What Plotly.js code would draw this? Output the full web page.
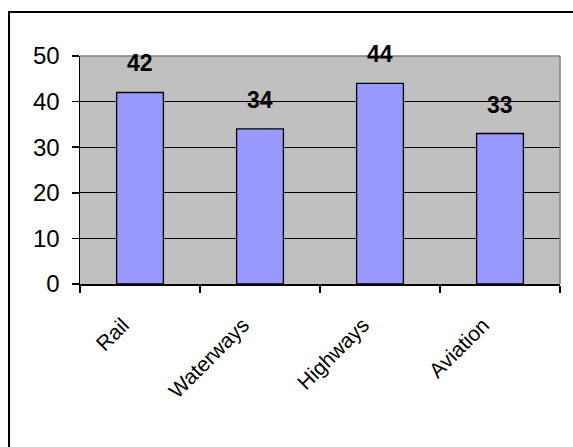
<!DOCTYPE html>
<html>
<head>
<meta charset="utf-8">
<script src="https://cdn.plot.ly/plotly-3.0.1.min.js"></script>
<style>
  html, body { margin: 0; padding: 0; background: #fff; }
  #wrap { position: relative; width: 573px; height: 447px; overflow: hidden; }
  #frame { position: absolute; left: 8px; top: 11px; width: 600px; height: 500px;
           border-top: 2px solid #000; border-left: 2px solid #000; box-sizing: border-box; }
  #chart { position: absolute; left: 0; top: 0; width: 573px; height: 447px; }
</style>
</head>
<body>
<div id="wrap">
  <div id="frame"></div>
  <div id="chart"></div>
</div>
<script>
const categories = ["Rail", "Waterways", "Highways", "Aviation"];
const values = [42, 34, 44, 33];
const yTicks = [0, 10, 20, 30, 40, 50];

const trace = {
  type: "bar",
  x: categories,
  y: values,
  marker: { color: "#9999FF", line: { color: "#000", width: 1.3 } },
  hoverinfo: "none"
};

const annotations = categories.map((c, i) => ({
  x: c, y: values[i], xref: "x", yref: "y",
  text: String(values[i]),
  showarrow: false,
  yanchor: "bottom",
  yshift: 14,
  font: { family: "Liberation Sans, Arial, sans-serif", size: 23, color: "#000", weight: "bold" }
}));

const layout = {
  width: 573, height: 447,
  margin: { l: 80, r: 13, t: 56, b: 163 },
  paper_bgcolor: "rgba(0,0,0,0)",
  plot_bgcolor: "#C0C0C0",
  showlegend: false,
  bargap: 0.61,
  font: { family: "Liberation Sans, Arial, sans-serif", color: "#000" },
  xaxis: {
    type: "category",
    showline: true, linecolor: "#000", linewidth: 1.5,
    ticks: "outside", tickson: "boundaries", ticklen: 7, tickcolor: "#000", tickwidth: 1.5,
    tickangle: -45,
    ticklabelstandoff: 19,
    ticklabelshift: -17,
    tickfont: { size: 21, family: "Liberation Sans, Arial, sans-serif" },
    showgrid: false
  },
  yaxis: {
    range: [0, 50],
    tickvals: yTicks,
    ticktext: yTicks.map(String),
    showline: true, linecolor: "#000", linewidth: 1.5,
    ticks: "outside", ticklen: 7, tickcolor: "#000", tickwidth: 1.5,
    ticklabelstandoff: 7,
    showgrid: true, gridcolor: "#000", gridwidth: 1.3,
    zeroline: false,
    tickfont: { size: 24, family: "Liberation Sans, Arial, sans-serif" }
  },
  shapes: [
    { type: "line", xref: "paper", yref: "paper", x0: 0, x1: 1, y0: 1, y1: 1,
      line: { color: "#808080", width: 1.5 }, layer: "above" },
    { type: "line", xref: "paper", yref: "paper", x0: 1, x1: 1, y0: 0, y1: 1,
      line: { color: "#808080", width: 1.5 }, layer: "above" }
  ],
  annotations: annotations
};

Plotly.newPlot("chart", [trace], layout, { displayModeBar: false, staticPlot: true });
</script>
</body>
</html>
